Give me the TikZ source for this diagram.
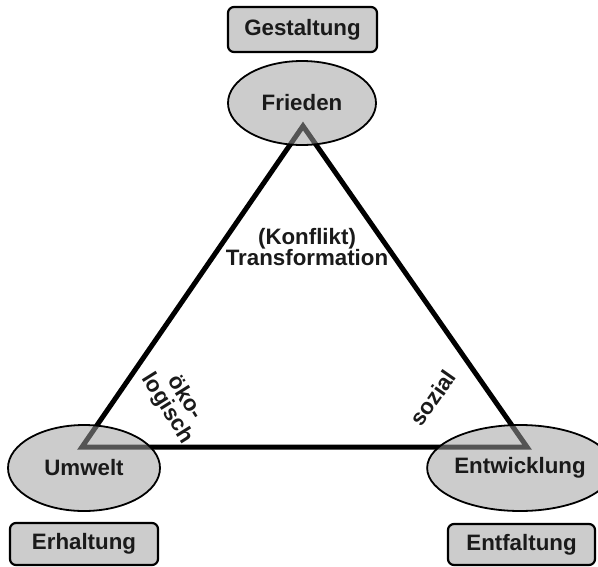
\documentclass[tikz,border=0pt]{standalone}
\usepackage{fontspec}
\setmainfont{Liberation Sans}
\usetikzlibrary{shapes.geometric}
\definecolor{boxgray}{RGB}{204,204,204}
\definecolor{ellgray}{RGB}{159,159,159}
\definecolor{txt}{RGB}{26,26,26}
\tikzset{
  lbl/.style={font=\bfseries\fontsize{22.3}{24}\selectfont, text=txt, align=center},
  ell/.style={ellipse, draw=black, line width=1.8pt, fill=ellgray, fill opacity=0.53, draw opacity=1, text opacity=1, inner sep=0pt, lbl},
  tag/.style={rectangle, rounded corners=6pt, draw=black, line width=2.2pt, fill=boxgray, inner sep=0pt, lbl},
  tri/.style={line width=5pt, draw=black, line join=miter}
}
\begin{document}
\begin{tikzpicture}[x=1pt,y=-1pt]
\useasboundingbox (0,0) rectangle (598,566);
\coordinate (vt) at (303,126);
\coordinate (vl) at (82,447);
\coordinate (vr) at (527,447);
\draw[tri] (vt) -- (vl) -- (vr) -- cycle;
\node[ell, minimum width=148pt, minimum height=84pt] (frieden) at (302,103) {Frieden};
\node[ell, minimum width=152pt, minimum height=86pt] (umwelt) at (84,468) {Umwelt};
\node[ell, minimum width=145pt, minimum height=86pt] (entw) at (520,468) {Entwicklung};
\node[tag, minimum width=149pt, minimum height=45pt] (gest) at (302.5,29.5) {Gestaltung};
\node[tag, minimum width=148pt, minimum height=42pt] (erh) at (84,544) {Erhaltung};
\node[tag, minimum width=147pt, minimum height=41pt] (entf) at (521.5,544.5) {Entfaltung};
\node[lbl] (konf) at (307,247) {(Konflikt)\\[-3pt]Transformation};
\node[lbl, rotate=-58] (oeko) at (176,403) {öko-\\[-3pt]logisch};
\node[lbl, rotate=55] (soz) at (433,398) {sozial};
\end{tikzpicture}
\end{document}
